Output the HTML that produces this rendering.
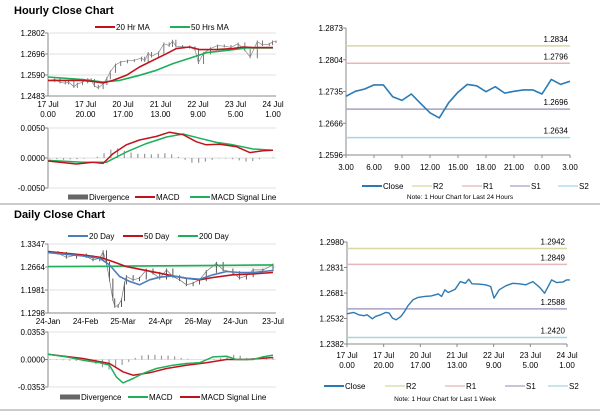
<!DOCTYPE html>
<html><head><meta charset="utf-8"><style>
body{margin:0;background:#fff;width:600px;height:413px;overflow:hidden;font-family:"Liberation Sans",Arial,sans-serif}
svg text{font-family:"Liberation Sans",Arial,sans-serif}
</style></head><body>
<svg id="c" width="600" height="413" viewBox="0 0 600 413">
<text x="14" y="14" font-size="11" font-weight="bold">Hourly Close Chart</text>
<text x="14" y="218" font-size="11" font-weight="bold">Daily Close Chart</text>
<line x1="0" y1="204" x2="600" y2="204" stroke="#999" stroke-width="1"/>
<line x1="0" y1="410" x2="600" y2="410" stroke="#999" stroke-width="1"/>
</svg>
<script>
// ---------- data ----------
// x positions in "label units" (0..6 across the 7 x-axis labels)
const weekX = [0,0.18,0.32,0.46,0.55,0.69,0.78,0.92,1.06,1.15,1.24,1.34,1.47,1.57,1.66,1.80,1.94,2.12,2.30,2.49,2.58,2.67,2.76,2.95,3.09,3.23,3.32,3.41,3.59,3.78,3.92,4.01,4.15,4.33,4.52,4.70,4.88,5.07,5.25,5.39,5.58,5.72,5.90,5.99,6.08];
const weekClose = [1.2559,1.2567,1.2553,1.2548,1.2553,1.2530,1.2544,1.2553,1.2567,1.2563,1.2534,1.2524,1.2544,1.2573,1.2606,1.2641,1.2655,1.2661,1.2664,1.2676,1.2661,1.2700,1.2684,1.2703,1.2748,1.2738,1.2762,1.2735,1.2733,1.2729,1.2719,1.2651,1.2700,1.2723,1.2738,1.2735,1.2729,1.2748,1.2715,1.2680,1.2758,1.2742,1.2746,1.2758,1.2758];
const ma20X = [0,0.49,0.93,1.2,1.47,1.73,2.09,2.44,2.8,3.16,3.42,3.78,4.04,4.49,4.93,5.2,5.47,6.0];
const ma20 = [1.2562,1.2562,1.2562,1.2557,1.2549,1.2562,1.2588,1.2630,1.2664,1.2697,1.2723,1.2731,1.2718,1.2718,1.2723,1.2731,1.2728,1.2728];
const ma50X = [0,0.93,1.47,1.91,2.44,2.89,3.33,3.87,4.22,4.76,5.29,6.0];
const ma50 = [1.2579,1.2566,1.2554,1.2562,1.2588,1.2613,1.2647,1.2680,1.2702,1.2714,1.2726,1.2726];
const hMacdX = [0,0.76,1.2,1.47,1.73,2.09,2.44,2.89,3.24,3.6,3.96,4.22,4.58,5.02,5.38,5.73,6.0];
const hMacd = [-0.0005,-0.001,-0.0007,-0.0009,0.0007,0.0022,0.003,0.0036,0.0043,0.0039,0.0027,0.0022,0.0023,0.0019,0.0009,0.0012,0.0013];
const hSigX = [0,0.93,1.56,2.09,2.62,3.16,3.6,4.04,4.49,4.93,5.47,6.0];
const hSig = [-0.0004,-0.0007,-0.0007,0.001,0.0024,0.0035,0.004,0.0033,0.0026,0.0022,0.0015,0.0013];
const hDiv = [-0.0001,-0.0002,-0.0003,-0.0002,-0.0002,-0.0001,0,0.0002,0.0008,0.0014,0.0016,0.0012,0.0009,0.0007,0.0007,0.0006,0.0007,0.0008,0.0006,0.0002,-0.0003,-0.0008,-0.0008,-0.0006,-0.0003,-0.0001,-0.0001,-0.0002,-0.0004,-0.0006,-0.0005,-0.0002,0,0.0001];

const dayX = [0,0.27,0.49,0.76,1.02,1.2,1.38,1.47,1.56,1.64,1.73,1.78,1.87,1.96,2.04,2.09,2.27,2.44,2.62,2.8,2.98,3.16,3.33,3.51,3.69,3.87,4.04,4.22,4.49,4.67,4.93,5.11,5.29,5.47,5.73,6.0];
const dayClose = [1.3091,1.3071,1.2953,1.3022,1.2973,1.2874,1.2923,1.3120,1.2776,1.2283,1.1692,1.1495,1.1515,1.1692,1.2185,1.2382,1.2283,1.2332,1.2579,1.2480,1.2332,1.2579,1.2382,1.2283,1.2135,1.2185,1.2283,1.2529,1.2776,1.2579,1.2500,1.2332,1.2401,1.2579,1.2579,1.2726];
const d20X = [0,0.93,1.38,1.64,1.91,2.18,2.44,2.71,2.98,3.33,3.69,4.04,4.4,4.76,5.11,5.47,6.0];
const d20 = [1.3091,1.2992,1.2923,1.2726,1.2382,1.2234,1.2135,1.2283,1.2362,1.2401,1.2332,1.2303,1.2431,1.2529,1.2500,1.2500,1.2559];
const d50X = [0,0.93,1.38,1.73,2.09,2.44,2.98,3.33,3.69,4.04,4.4,4.93,5.47,6.0];
const d50 = [1.3120,1.3022,1.2953,1.2825,1.2677,1.2598,1.2480,1.2401,1.2332,1.2283,1.2352,1.2431,1.2460,1.2500];
const d200X = [0,1.5,3,4.5,6];
const d200 = [1.2677,1.2684,1.2700,1.2712,1.2726];
const dMacdX = [0,0.49,0.93,1.38,1.64,1.82,2.0,2.27,2.53,2.89,3.33,3.69,4.04,4.4,4.76,5.02,5.47,5.73,6.0];
const dMacd = [0.0068,0.0034,-0.0009,-0.0043,-0.0073,-0.0223,-0.03,-0.0244,-0.018,-0.0116,-0.0073,-0.0051,-0.0043,0.0034,0.0043,0,0,0.0034,0.0056];
const dSigX = [0,0.93,1.64,2.0,2.27,2.71,3.16,3.69,4.22,4.76,5.29,6.0];
const dSig = [0.0068,0.0013,-0.0051,-0.0158,-0.0201,-0.0171,-0.0116,-0.0073,-0.0043,0,0,0.0026];
const dDiv = [0.0005,-0.0005,-0.001,-0.0015,-0.0018,-0.002,-0.003,-0.006,-0.01,-0.013,-0.011,-0.007,-0.003,0.002,0.005,0.006,0.006,0.005,0.005,0.004,0.002,0.001,0,0,0,0.001,0.002,0.004,0.006,0.005,0.002,0,0.001,0.002,0.003];

const hourX = [0,1,2,3,4,5,6,7,8,9,10,11,12,13,14,15,16,17,18,19,20,21,22,23,24];
const hourClose = [1.2724,1.2735,1.2740,1.2749,1.2749,1.2723,1.2715,1.2729,1.2708,1.2688,1.2677,1.2710,1.2733,1.2750,1.2747,1.2734,1.2745,1.2731,1.2735,1.2738,1.2738,1.2729,1.2761,1.2750,1.2757];
const hourLevels = [1.2834,1.2796,1.2696,1.2634];
const weekLevels = [1.2942,1.2849,1.2588,1.2420];

const hTicks = ["1.2802","1.2696","1.2590","1.2483"];
const hMacdTicks = ["0.0050","0.0000","-0.0050"];
const hLabels1 = ["17 Jul","17 Jul","20 Jul","21 Jul","22 Jul","23 Jul","24 Jul"];
const hLabels2 = ["0.00","20.00","17.00","13.00","9.00","5.00","1.00"];
const dTicks = ["1.3347","1.2664","1.1981","1.1298"];
const dMacdTicks = ["0.0353","0.0000","-0.0353"];
const dLabels = ["24-Jan","24-Feb","25-Mar","24-Apr","26-May","24-Jun","23-Jul"];
const rTicks = ["1.2873","1.2804","1.2735","1.2666","1.2596"];
const rLabels = ["3.00","6.00","9.00","12.00","15.00","18.00","21.00","0.00","3.00"];
const wTicks = ["1.2980","1.2831","1.2681","1.2532","1.2382"];

// ---------- drawing ----------
const svg = document.getElementById('c');
const NS = 'http://www.w3.org/2000/svg';
function mk(tag, attrs, parent){const e=document.createElementNS(NS,tag);for(const k in attrs)e.setAttribute(k,attrs[k]);(parent||svg).appendChild(e);return e;}
function lin(d0,d1,r0,r1){return v=>r0+(v-d0)/(d1-d0)*(r1-r0);}
function txt(x,y,s,anchor,size,name){const t=mk('text',{x:x,y:y,'font-size':size||8,'text-anchor':anchor||'start',fill:'#000'});t.textContent=s;


return t;}
function path(xs,ys,sx,sy,color,w,name){let d='';for(let i=0;i<xs.length;i++)d+=(i?'L':'M')+sx(xs[i]).toFixed(1)+','+sy(ys[i]).toFixed(1);
const p=mk('path',{d:d,fill:'none',stroke:color,'stroke-width':w||1.5,'stroke-linejoin':'round'});


return p;}
function yAxis(x,y0,y1,ticks,name,grid,x2){
  const a=mk('line',{x1:x,y1:y0,x2:x,y2:y1,stroke:'#888','stroke-width':1});
  
  
  ticks.forEach((t,i)=>{const y=y0+(y1-y0)*i/(ticks.length-1);
    txt(x-3,y+3,t,'end',8,name+'-tick');
    mk('line',{x1:x-3,y1:y,x2:x,y2:y,stroke:'#888'});
    if(grid)mk('line',{x1:x,y1:y,x2:x2,y2:y,stroke:'#d8d8d8','stroke-width':0.8});
  });
}
function legend(items,y){
  items.forEach(it=>{
    const g=mk('g',{});
    
    
    mk('line',{x1:it[0],y1:y-3,x2:it[0]+20,y2:y-3,stroke:it[2],'stroke-width':it[3]||2},g);
    const t=mk('text',{x:it[0]+21,y:y,'font-size':8},g);t.textContent=it[1];
  });
}
function bars(vals,x0,x1,sy,name){
  const sx=lin(0,vals.length-1,x0,x1);
  vals.forEach((v,i)=>{const r=mk('line',{x1:sx(i),x2:sx(i),y1:sy(0),y2:sy(v),stroke:'#999','stroke-width':1.2});
    
    });
}

// Hourly (left top)
(function(){
  const L=48,R=273,sx=lin(0,6,L,R),sy=lin(1.2802,1.2483,33,96);
  yAxis(L,33,96,hTicks,'hourly-price-y-axis',true,R+3);
  mk('line',{x1:L,y1:96,x2:R+3,y2:96,stroke:'#888'});
  hLabels1.forEach((s,i)=>{txt(sx(i),107,s,'middle',8,'hourly-x-label');txt(sx(i),117,hLabels2[i],'middle',8,'hourly-x-label');});
  weekX.forEach((x,i)=>{if(i){const v0=weekClose[i-1],v1=weekClose[i];const l=mk('line',{x1:sx(x),x2:sx(x),y1:sy(Math.max(v0,v1)+0.0006),y2:sy(Math.min(v0,v1)-0.0006),stroke:'#555','stroke-width':0.8});
    
    }});
  path(weekX,weekClose,sx,sy,'#888',0.7,'hourly-price-line');
  path(ma50X,ma50,sx,sy,'#1fae5a',1.6,'ma50-line');
  path(ma20X,ma20,sx,sy,'#c0141c',1.6,'ma20-line');
  legend([[95,'20 Hr MA','#c0141c'],[170,'50 Hrs MA','#1fae5a']],30);
  const my=lin(0.005,-0.005,128,188);
  yAxis(L,128,188,hMacdTicks,'hourly-macd-y-axis',true,R+3);
  bars(hDiv,L+2,R,my,'hourly-divergence-bar');
  path(hSigX,hSig,sx,my,'#1fae5a',1.5,'hourly-macd-signal');
  path(hMacdX,hMacd,sx,my,'#c0141c',1.5,'hourly-macd');
  legend([[68,'Divergence','#666',5],[135,'MACD','#c0141c'],[190,'MACD Signal Line','#1fae5a']],200);
})();

// Hourly right (24h)
(function(){
  const L=346,R=570,sx=lin(0,24,L,R),sy=lin(1.2873,1.2596,28,155);
  yAxis(L,28,155,rTicks,'hour24-y-axis',false);
  mk('line',{x1:L,y1:155,x2:R,y2:155,stroke:'#888'});
  rLabels.forEach((s,i)=>{const x=sx(i*3);txt(x,170,s,'middle',8,'hour24-x-label');mk('line',{x1:x,y1:155,x2:x,y2:158,stroke:'#888'});});
  const cols=['#d8d8a0','#e4b8b8','#a8a0c4','#a8d4e4'];
  hourLevels.forEach((v,i)=>{const l=mk('line',{x1:L,x2:R,y1:sy(v),y2:sy(v),stroke:cols[i],'stroke-width':1.5});
    
    
    txt(R-2,sy(v)-4,v.toFixed(4),'end',8,'hour24-level-label');});
  path(hourX,hourClose,sx,sy,'#2a7ab4',1.6,'hour24-close-line');
  legend([[362,'Close','#2a7ab4'],[412,'R2','#d8d8a0',1.2],[462,'R1','#e4b8b8',1.2],[510,'S1','#a8a0c4',1.2],[558,'S2','#a8d4e4',1.2]],189);
  txt(460,199,'Note: 1 Hour Chart for Last 24 Hours','middle',6.5,'hour24-note');
})();

// Daily (left bottom)
(function(){
  const L=48,R=273,sx=lin(0,6,L,R),sy=lin(1.3347,1.1298,244,313);
  yAxis(L,244,313,dTicks,'daily-price-y-axis',true,R+3);
  mk('line',{x1:L,y1:313,x2:R+3,y2:313,stroke:'#888'});
  dLabels.forEach((s,i)=>txt(sx(i),324,s,'middle',8,'daily-x-label'));
  dayX.forEach((x,i)=>{if(i){const v0=dayClose[i-1],v1=dayClose[i];const l=mk('line',{x1:sx(x),x2:sx(x),y1:sy(Math.max(v0,v1)+0.004),y2:sy(Math.min(v0,v1)-0.004),stroke:'#444','stroke-width':0.9});
    
    }});
  path(dayX,dayClose,sx,sy,'#777',0.7,'daily-price-line');
  path(d200X,d200,sx,sy,'#1fae5a',1.6,'day200-line');
  path(d50X,d50,sx,sy,'#c0141c',1.6,'day50-line');
  path(d20X,d20,sx,sy,'#4a7ebb',1.6,'day20-line');
  legend([[68,'20 Day','#4a7ebb'],[123,'50 Day','#c0141c'],[178,'200 Day','#1fae5a']],239);
  const my=lin(0.0353,-0.0353,332,387);
  yAxis(L,332,387,dMacdTicks,'daily-macd-y-axis',true,R+3);
  bars(dDiv,L+2,R,my,'daily-divergence-bar');
  path(dSigX,dSig,sx,my,'#c0141c',1.5,'daily-macd-signal');
  path(dMacdX,dMacd,sx,my,'#1fae5a',1.5,'daily-macd');
  legend([[60,'Divergence','#666',5],[128,'MACD','#1fae5a'],[180,'MACD Signal Line','#c0141c']],400);
})();

// Weekly right
(function(){
  const L=347,R=567,sx=lin(0,6,L,R),sy=lin(1.2980,1.2382,242,344);
  yAxis(L,242,344,wTicks,'week-y-axis',false);
  mk('line',{x1:L,y1:344,x2:R,y2:344,stroke:'#888'});
  hLabels1.forEach((s,i)=>{txt(sx(i),358,s,'middle',8,'week-x-label');txt(sx(i),368,hLabels2[i],'middle',8,'week-x-label');mk('line',{x1:sx(i),y1:344,x2:sx(i),y2:347,stroke:'#888'});});
  const cols=['#d8d8a0','#e4b8b8','#a8a0c4','#a8d4e4'];
  weekLevels.forEach((v,i)=>{const l=mk('line',{x1:L,x2:R,y1:sy(v),y2:sy(v),stroke:cols[i],'stroke-width':1.5});
    
    
    txt(R-2,sy(v)-4,v.toFixed(4),'end',8,'week-level-label');});
  path(weekX,weekClose,sx,sy,'#2a7ab4',1.4,'week-close-line');
  legend([[324,'Close','#2a7ab4'],[385,'R2','#d8d8a0',1.2],[445,'R1','#e4b8b8',1.2],[505,'S1','#a8a0c4',1.2],[548,'S2','#a8d4e4',1.2]],389);
  txt(445,401,'Note: 1 Hour Chart for Last 1 Week','middle',6.5,'week-note');
})();
</script>
</body></html>
